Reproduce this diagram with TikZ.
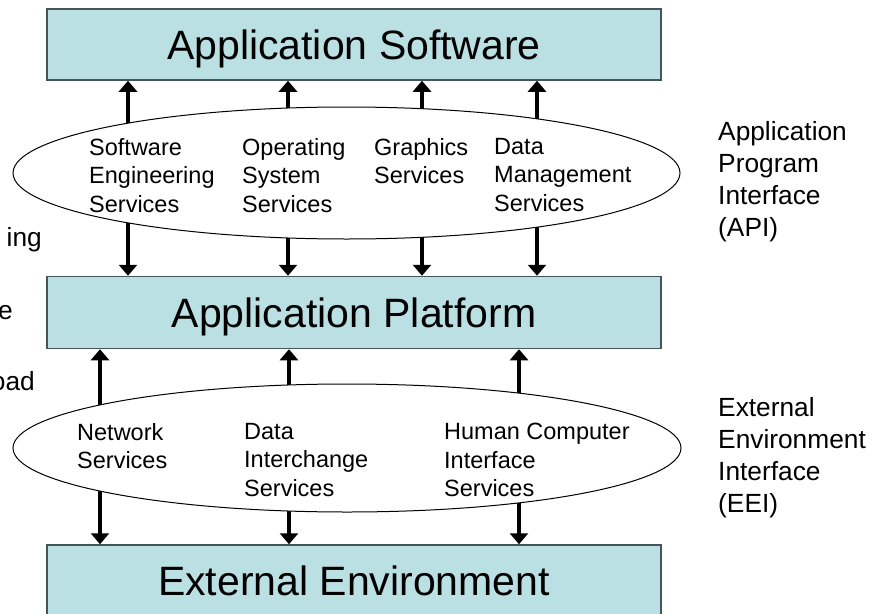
\documentclass[tikz,border=0pt]{standalone}
\usepackage{fontspec}
\setmainfont{Liberation Sans}
\usetikzlibrary{arrows.meta,shapes.geometric}
\definecolor{boxfill}{RGB}{187,224,227}
\definecolor{boxline}{RGB}{70,85,85}
\begin{document}
\begin{tikzpicture}[x=1pt,y=-1pt,
  box/.style={draw=boxline, line width=1.5pt, fill=boxfill, minimum width=614pt, inner sep=0pt, text height=38.4pt, text depth=9pt, font=\fontsize{41}{49}\selectfont},
  svc/.style={ellipse, draw=black, line width=1pt, fill=white, inner sep=0pt},
  lbl/.style={anchor=north west, align=left, inner sep=0pt, font=\fontsize{23.5}{28.5}\selectfont},
  side/.style={anchor=north west, align=left, inner sep=0pt, font=\fontsize{26.3}{32}\selectfont},
  cut/.style={anchor=base east, inner sep=0pt, font=\fontsize{26.3}{32}\selectfont},
  arr/.style={line width=4pt, {Triangle[width=18pt,length=11pt]}-{Triangle[width=18pt,length=11pt]}},
]
\useasboundingbox (0,0) rectangle (883,613);

% boxes
\node[box, minimum height=71pt] (as) at (354,44.5) {Application Software};
\node[box, minimum height=72pt] (ap) at (354,312.5) {Application Platform};
\node[box, minimum height=71pt] (ee) at (354,580.5) {External Environment};

% arrow columns
\coordinate (x1) at (128,0);
\coordinate (x2) at (288,0);
\coordinate (x3) at (422,0);
\coordinate (x4) at (537,0);
\coordinate (y1) at (100,0);
\coordinate (y2) at (289,0);
\coordinate (y3) at (519,0);

\foreach \c in {x1,x2,x3,x4}
  \draw[arr] (as.south -| \c) -- (ap.north -| \c);
\foreach \c in {y1,y2,y3}
  \draw[arr] (ap.south -| \c) -- (ee.north -| \c);

% service ellipses
\node[svc, minimum width=667pt, minimum height=132pt] (api) at (346.5,173) {};
\node[svc, minimum width=668pt, minimum height=128pt] (eei) at (347,448) {};

% services in API
\node[lbl] (sw) at (89,138) {Software\\Engineering\\Services};
\node[lbl] (os) at (242,138) {Operating\\System\\Services};
\node[lbl] (gr) at (374,138) {Graphics\\Services};
\node[lbl] (dm) at (494,138) {Data\\Management\\Services};

% services in EEI
\node[lbl] (nw) at (77,423) {Network\\Services};
\node[lbl] (di) at (244,423) {Data\\Interchange\\Services};
\node[lbl] (hc) at (444,423) {Human Computer\\Interface\\Services};

% side labels
\node[side] (lapi) at (718,121) {Application\\Program\\Interface\\(API)};
\node[side] (leei) at (718,397) {External\\Environment\\Interface\\(EEI)};

% cut-off text at the left margin
\node[cut] (c1) at (42,246) {ing};
\node[cut] (c2) at (13,319) {e};
\node[cut] (c3) at (35,390) {oad};
\end{tikzpicture}
\end{document}
